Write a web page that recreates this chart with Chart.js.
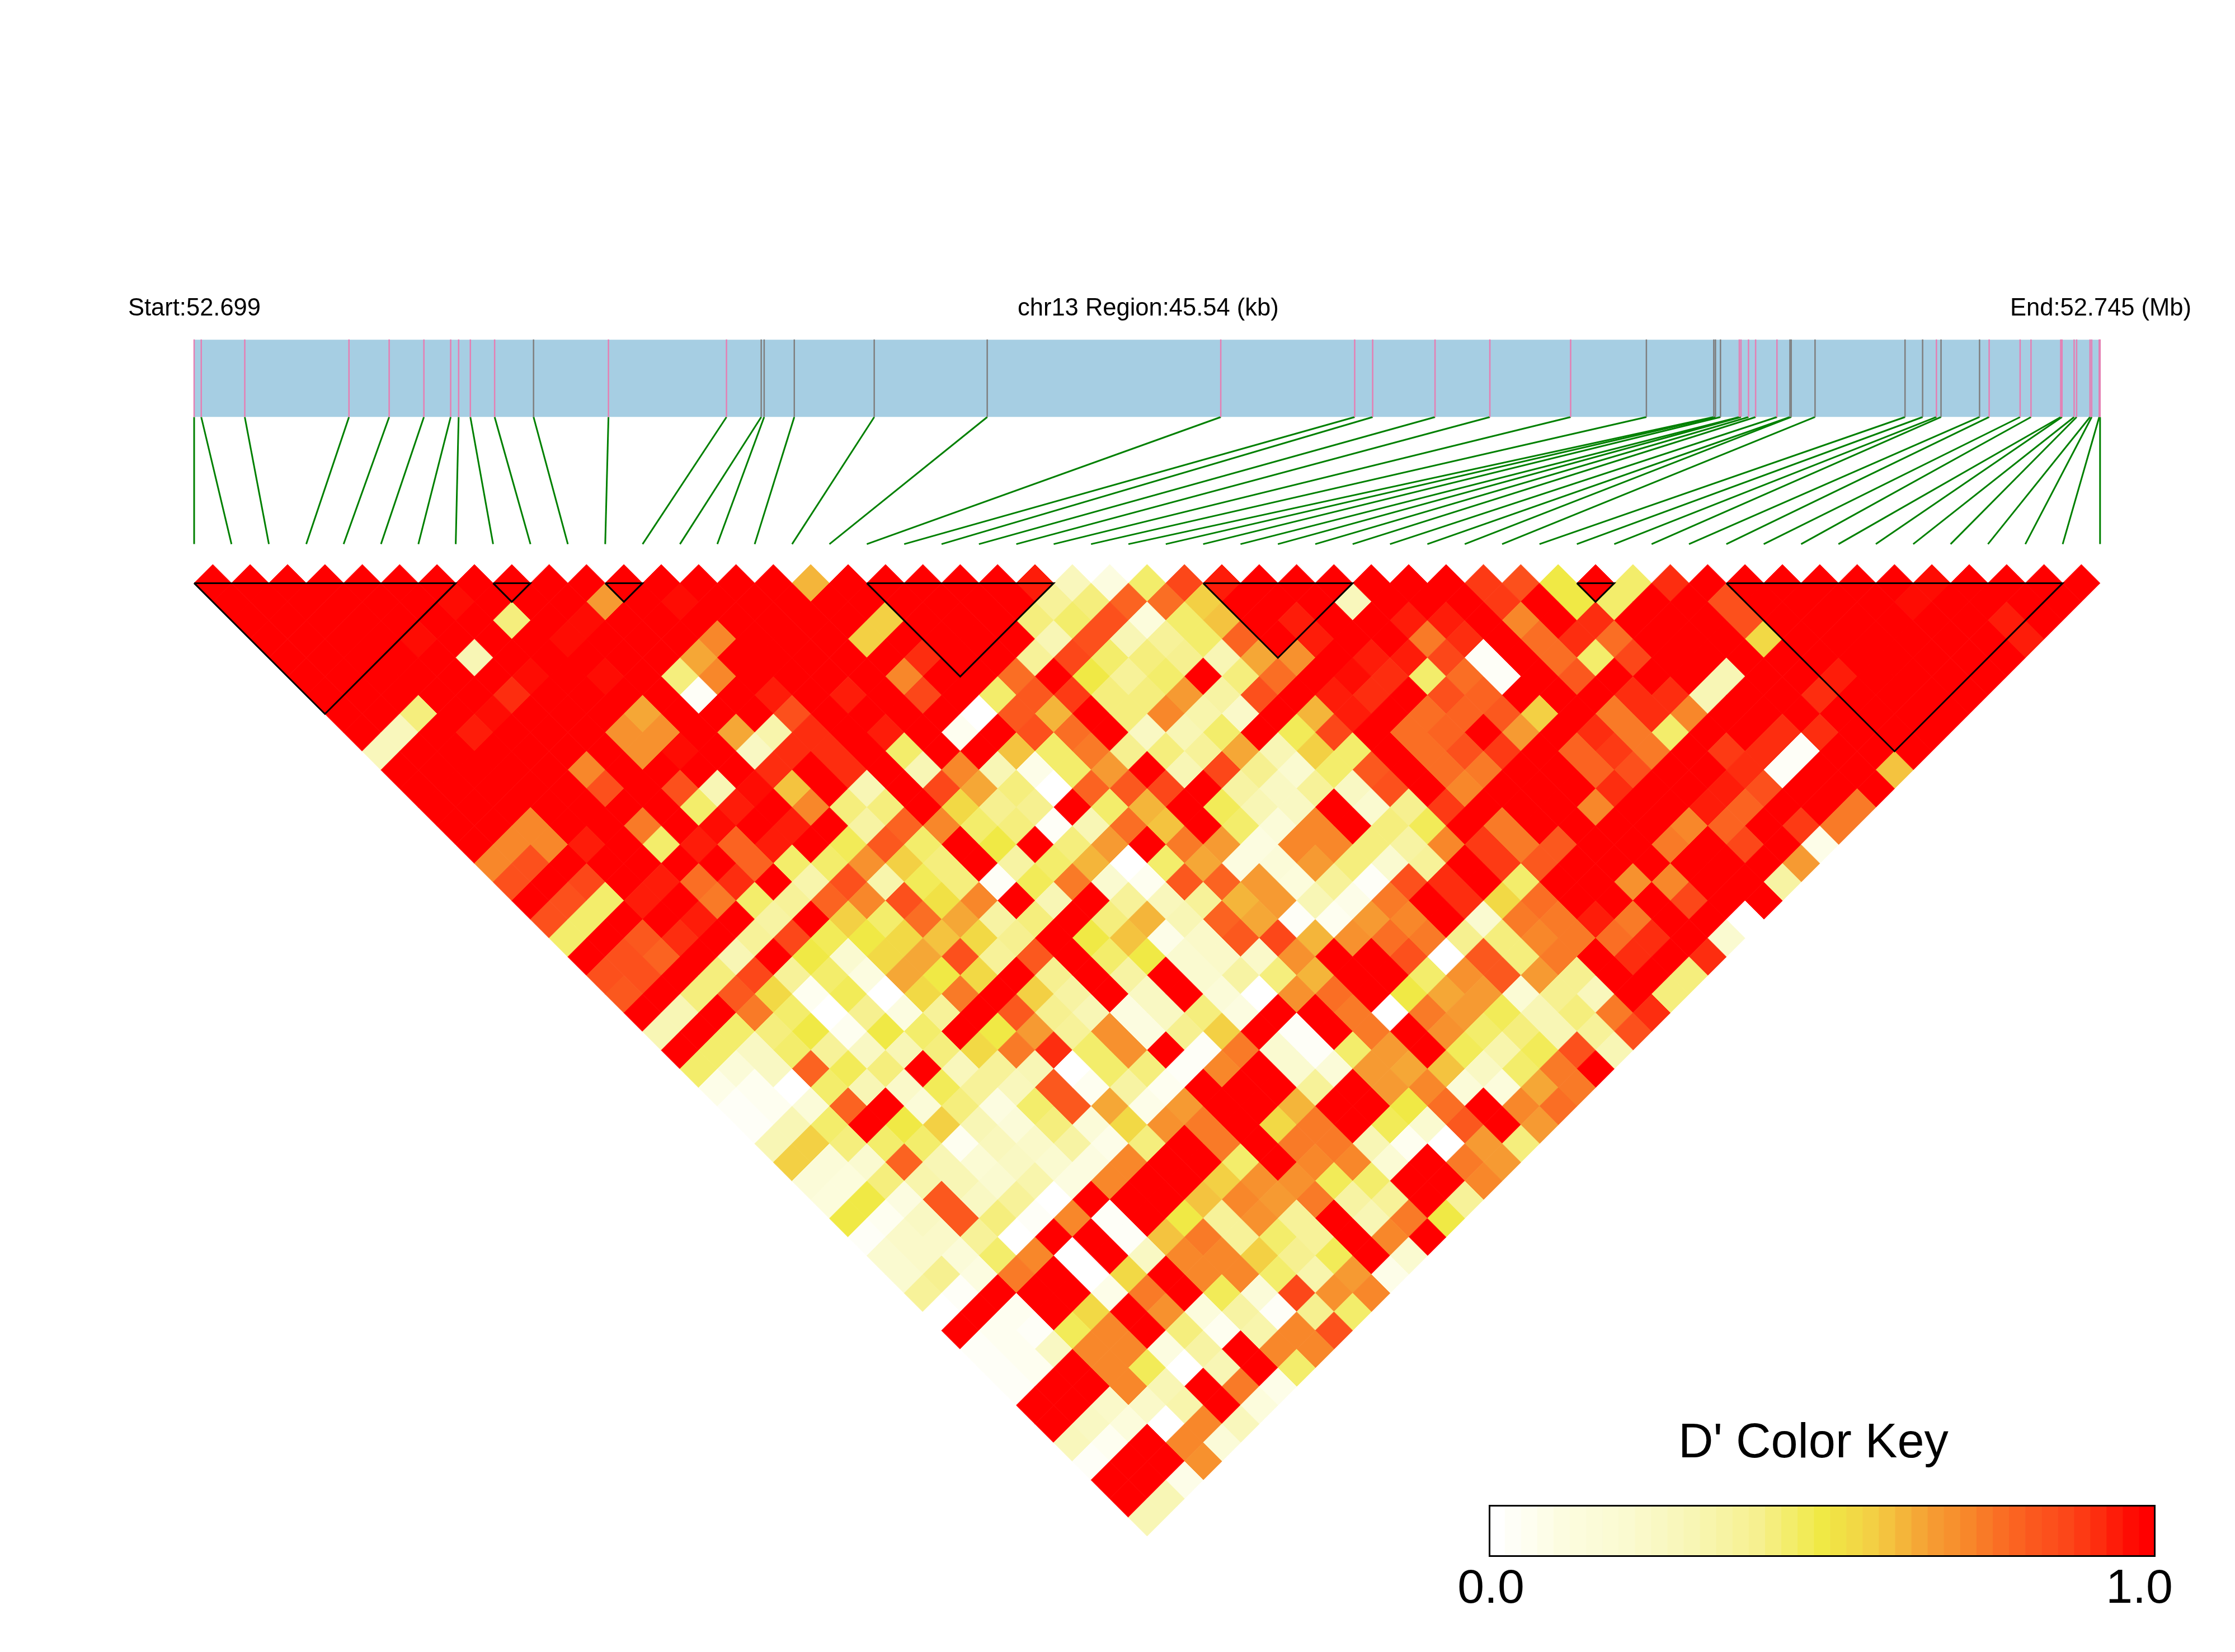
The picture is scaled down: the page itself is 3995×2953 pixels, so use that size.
<!DOCTYPE html>
<html>
<head>
<meta charset="utf-8">
<title>LD heatmap chr13</title>
<script src="https://cdn.jsdelivr.net/npm/chart.js@4/dist/chart.umd.js"></script>
<style>
  body { margin: 0; background: #fff; }
  #wrap { position: relative; width: 3995px; height: 2953px; }
  #ld { position: absolute; left: 0; top: 0; }
  #key { position: absolute; left: 2661px; top: 2690px; }
</style>
</head>
<body>
<div id="wrap">
  <canvas id="ld" width="3995" height="2953"></canvas>
  <canvas id="key" width="1192" height="93"></canvas>
</div>
<script>
// ======== Data ========
const regionKb = 45.54;
// SNP position inside the region, kb from the start
const snpKb = [0, .17, 1.21, 3.70, 4.66, 5.49, 6.13, 6.32, 6.60, 7.18,
  8.11, 9.90, 12.72, 13.55, 13.62, 14.34, 16.25, 18.95,
  24.53, 27.73, 28.16, 29.65, 30.96, 32.89, 34.70,
  36.31, 36.35, 36.47, 36.92, 36.96, 37.14, 37.31, 37.82, 38.13, 38.16, 38.73,
  40.88, 41.30, 41.63, 41.74, 42.66, 42.89, 43.63, 43.89, 44.60, 44.63, 44.92, 44.98, 45.30, 45.34, 45.52, 45.54];
// SNPs whose tick on the gene bar is grey, the others are pink
const greySnps = [10, 13, 14, 15, 16, 17, 24, 25, 26, 27, 33, 34, 35, 36, 37, 39, 40];
// haplotype blocks, first and last SNP
const blockStart = [0, 8, 11, 18, 27, 37, 41];
const blockEnd = [7, 9, 12, 23, 31, 38, 50];

// D' x 100, one list per SNP distance
const dist1 = [100,100,100,100,100,100,100,100,100,100, 100,100,100,100,100,100,62,100,100,100, 100,100,96,28,10,45,88,95,100,100, 100,100,100,100,90,85,50,100,44,92, 100,100,100,100,100,100,97,100,100,100,100];
const dist2 = [100,100,100,100,100,100,97,100,100,100, 68,100,97,100,100,100,100,100,100,100, 100,100,38,42,80,77,57,100,100,100, 28,100,100,100,90,100,50,44,100,100, 85,100,100,100,100,97,100,100,100,100];
const dist3 = [100,100,100,100,100,100,100,42,100,97, 100,100,100,100,100,100,100,57,100,100, 100,42,45,85,12,46,60,100,95,100, 100,95,95,100,73,100,92,100,100,100, 85,100,100,100,100,100,100,95,100];
const dist4 = [100,100,100,100,97,100,100,100,97,100, 100,100,72,100,100,100,57,100,100,100, 100,30,85,30,37,44,80,100,95,100, 100,75,93,100,77,92,77,100,100,100, 56,100,100,100,100,100,100,94];
const dist5 = [100,100,100,100,100,30,100,100,100,100, 100,65,100,100,100,100,100,92,100,100, 38,88,45,42,40,30,65,69,100,95, 95,87,2,100,77,45,88,100,100,100, 100,100,100,100,100,100,100];
const dist6 = [100,100,100,100,100,100,97,100,97,100, 42,72,100,100,100,100,72,100,100,77, 100,50,37,45,100,42,77,100,97,93, 45,77,2,100,82,100,100,100,30,100, 100,94,100,100,100,100];
const dist7 = [100,100,100,100,100,93,100,100,100,100, 3,100,95,100,95,100,87,100,44,82, 90,42,42,67,35,85,100,95,93,100, 85,80,100,100,100,92,93,30,100,100, 92,100,100,100,100];
const dist8 = [100,100,43,100,97,100,100,100,66,100, 100,100,85,100,100,100,100,0,82,62, 100,42,73,33,22,100,62,95,100,77, 80,82,58,100,75,92,72,100,100,100, 100,100,100,100];
const dist9 = [100,28,100,95,100,100,100,70,70,100, 65,33,92,100,95,100,6,100,84,78, 100,25,30,44,100,47,87,100,77,80, 100,67,100,92,75,44,100,100,92,92, 100,100,100];
const dist10 = [28,100,100,100,100,100,100,70,97,100, 25,92,93,100,45,100,100,60,44,76, 41,43,37,66,30,57,44,100,78,85, 90,100,80,90,75,100,90,92,3,100, 100,100];
const dist11 = [100,100,100,100,100,72,100,100,100,100, 92,100,93,100,30,72,30,8,44,67, 100,30,87,40,20,45,82,100,78,75, 100,100,80,85,100,100,93,3,100,100, 60];
const dist12 = [100,100,100,100,100,85,100,85,30,97, 60,100,30,100,87,65,42,0,80,82, 88,100,35,25,37,25,84,100,72,100, 100,100,93,100,100,95,85,100,100,100];
const dist13 = [100,100,100,100,100,100,100,45,95,100, 72,42,42,100,55,40,39,100,44,62, 100,47,30,25,100,20,40,90,100,100, 100,72,100,100,95,80,100,100,76];
const dist14 = [100,100,72,100,100,75,100,97,100,95, 100,36,80,72,46,42,3,30,78,60, 100,46,15,72,100,42,47,100,75,100, 100,100,100,73,80,100,90,75];
const dist15 = [100,72,72,95,100,45,95,80,95,100, 47,82,44,100,50,100,42,68,100,74, 68,10,73,72,42,35,72,90,75,82, 100,100,75,100,87,100,8];
const dist16 = [72,85,100,100,100,100,100,80,45,44, 70,58,42,100,35,44,62,0,46,66, 10,15,68,42,20,37,100,90,82,100, 100,100,100,100,100,67];
const dist17 = [86,100,88,100,95,78,93,100,32,85, 32,48,42,3,48,75,20,5,82,80, 68,12,38,3,85,92,100,44,100,100, 69,73,100,100,35];
const dist18 = [100,86,45,96,100,75,44,38,80,73, 85,52,72,100,30,100,37,27,38,62, 67,30,8,76,100,92,55,78,100,100, 100,87,100,100];
const dist19 = [86,45,100,100,95,100,35,100,58,44, 77,64,36,42,100,42,62,30,80,64, 2,4,68,72,100,20,74,74,95,76, 100,100,0];
const dist20 = [44,100,82,92,100,38,87,47,50,56, 60,54,40,100,50,60,8,22,82,87, 62,70,78,75,40,42,72,74,77,92, 100,20];
const dist21 = [100,84,80,100,30,100,50,20,55,65, 85,38,83,100,45,50,20,22,22,70, 100,100,84,0,82,43,74,100,92,100, 93];
const dist22 = [85,85,100,42,88,38,45,10,65,50, 55,100,40,100,35,100,20,35,42,62, 100,100,45,70,82,67,40,100,100,42];
const dist23 = [82,100,42,83,55,5,48,0,55,76, 100,57,36,100,25,100,15,0,70,78, 100,50,66,67,18,41,27,100,42];
const dist24 = [100,30,100,76,45,0,40,10,38,100, 82,40,30,10,25,43,10,100,100,75, 0,74,68,47,30,43,74,92];
const dist25 = [30,100,44,43,50,5,50,45,100,49, 68,38,70,10,40,58,100,3,100,75, 100,71,45,42,30,38,86];
const dist26 = [100,44,25,44,38,25,30,43,55,76, 92,45,70,100,2,75,20,3,45,67, 100,47,33,48,85,30];
const dist27 = [44,15,25,80,47,42,100,28,38,30, 0,45,43,3,72,100,20,15,68,66, 60,25,45,75,100];
const dist28 = [8,5,0,44,30,22,48,38,27,82, 4,35,5,100,100,100,38,100,67,72, 15,12,66,75];
const dist29 = [2,4,15,80,100,15,42,10,45,83, 65,8,67,100,100,62,100,100,50,77, 100,72,78];
const dist30 = [2,30,44,100,50,58,30,15,42,15, 55,69,75,100,55,75,100,47,20,82, 100,68];
const dist31 = [30,58,43,46,44,5,28,22,35,8, 43,100,75,100,75,75,30,5,0,68, 43];
const dist32 = [58,15,20,80,30,17,25,20,10,72, 100,100,45,100,73,72,18,100,74,67];
const dist33 = [15,13,43,33,30,20,33,10,73,100, 100,58,70,70,47,45,100,100,72];
const dist34 = [12,50,10,82,25,38,0,100,100,100, 60,73,68,74,35,38,100,38];
const dist35 = [50,5,25,82,42,3,72,3,100,50, 38,70,37,100,30,75,50];
const dist36 = [3,22,22,38,0,100,100,3,60,75, 38,45,38,100,72,100];
const dist37 = [20,22,15,45,72,0,100,25,73,73, 57,40,47,100,20];
const dist38 = [20,40,10,76,100,0,55,100,72,72, 45,33,68,8];
const dist39 = [38,3,100,100,100,8,74,100,48,15, 88,70,72];
const dist40 = [0,100,5,100,55,100,70,12,35,2, 40,44];
const dist41 = [100,5,3,48,72,100,43,5,32,72, 85];
const dist42 = [2,4,25,72,72,10,36,100,72,72];
const dist43 = [3,4,100,72,47,0,30,100,44];
const dist44 = [3,100,100,72,30,100,75,8];
const dist45 = [100,100,22,22,33,100,12];
const dist46 = [100,25,12,0,72,28];
const dist47 = [28,4,100,72,15];
const dist48 = [3,100,100,70];
const dist49 = [100,100,7];
const dist50 = [100,30];
const dist51 = [30];
const distances = [dist1, dist2, dist3, dist4, dist5, dist6, dist7, dist8, dist9, dist10,
  dist11, dist12, dist13, dist14, dist15, dist16, dist17, dist18, dist19, dist20,
  dist21, dist22, dist23, dist24, dist25, dist26, dist27, dist28, dist29, dist30,
  dist31, dist32, dist33, dist34, dist35, dist36, dist37, dist38, dist39, dist40,
  dist41, dist42, dist43, dist44, dist45, dist46, dist47, dist48, dist49, dist50, dist51];

// ======== Colours ========
const keySteps = 41;
const rampAt = [0, .1, .2, .3, .4, .5, .57, .62, .67, .72, .77, .82, .87, .92, .97, 1];
const rampRgb = [[255,255,255],[252,252,224],[250,250,208],[248,246,181],[246,240,144],[240,233,69],[243,211,69],[244,184,59],
  [246,156,51],[248,138,42],[250,112,37],[251,90,30],[252,74,26],[253,48,16],[254,14,4],[255,0,0]];

function ldColor(v) {
  v = Math.round(v * (keySteps - 1)) / (keySteps - 1);
  let i = 0;
  while (i < rampAt.length - 2 && v > rampAt[i + 1]) i++;
  const t = (v - rampAt[i]) / (rampAt[i + 1] - rampAt[i]);
  const c = rampRgb[i].map((a, n) => Math.round(a + (rampRgb[i + 1][n] - a) * t));
  return `rgb(${c[0]},${c[1]},${c[2]})`;
}

// ======== Layout, in scale units: x = SNP number, y = SNP distance ========
const snpCount = snpKb.length;
const geneTop = -12.04, geneBottom = -7.89, fanBottom = -1.09;
const kbToX = kb => kb / regionKb * (snpCount - 1);

// ======== Datasets ========
const cells = [];
const cellColors = [];
distances.forEach((list, d) => {
  list.forEach((v, k) => {
    cells.push({ x: k + (d + 1) / 2, y: d + 1 });
    cellColors.push(ldColor(v / 100));
  });
});

const datasets = [];
datasets.push({
  type: 'scatter', label: "D'", data: cells, order: 5,
  backgroundColor: cellColors, borderColor: cellColors, borderWidth: 1, pointStyle: 'rectRot',
  pointRadius: c => (c.chart.scales.x.getPixelForValue(1) - c.chart.scales.x.getPixelForValue(0)) / 2,
});
// gene bar is one thick line across the region
datasets.push({
  type: 'line', label: 'region', order: 10, pointRadius: 0, borderCapStyle: 'butt',
  borderColor: '#a6cee3', borderWidth: 138,
  data: [{ x: 0, y: (geneTop + geneBottom) / 2 }, { x: snpCount - 1, y: (geneTop + geneBottom) / 2 }],
});
snpKb.forEach((kb, i) => {
  datasets.push({
    type: 'line', label: 'tick' + i, order: 6, pointRadius: 0, borderWidth: 2.5,
    borderColor: greySnps.includes(i) ? '#7f7f7f' : '#e57fb3',
    data: [{ x: kbToX(kb), y: geneTop }, { x: kbToX(kb), y: geneBottom }],
  });
  datasets.push({
    type: 'line', label: 'fan' + i, order: 6, pointRadius: 0, borderWidth: 3,
    borderColor: '#008000',
    data: [{ x: kbToX(kb), y: geneBottom }, { x: i, y: fanBottom }],
  });
});
blockStart.forEach((a, n) => {
  const b = blockEnd[n];
  datasets.push({
    type: 'line', label: 'block' + n, order: 1, pointRadius: 0, borderWidth: 3,
    borderColor: '#000', borderJoinStyle: 'miter',
    data: [{ x: a, y: 1 }, { x: b, y: 1 }, { x: (a + b) / 2, y: 1 + b - a }, { x: a, y: 1 }],
  });
});

// ======== Texts ========
const pageTexts = [
  { text: 'Start:52.699', x: 229, y: 564, size: 43.5, align: 'left' },
  { text: 'chr13 Region:45.54 (kb)', x: 1819, y: 564, size: 43.5, align: 'left' },
  { text: 'End:52.745 (Mb)', x: 3593, y: 564, size: 43.5, align: 'left' },
  { text: "D' Color Key", x: 3000, y: 2605, size: 86.5, align: 'left' },
  { text: '0.0', x: 2665, y: 2865, size: 86, align: 'center' },
  { text: '1.0', x: 3824, y: 2865, size: 86, align: 'center' },
];
const textPlugin = {
  id: 'pageTexts',
  afterDraw(chart) {
    const ctx = chart.ctx;
    ctx.save();
    ctx.fillStyle = '#000';
    pageTexts.forEach(t => {
      ctx.font = `${t.size}px "Liberation Sans"`;
      ctx.textAlign = t.align;
      ctx.fillText(t.text, t.x, t.y);
    });
    ctx.restore();
  },
};

// ======== Charts ========
new Chart(document.getElementById('ld'), {
  data: { datasets },
  plugins: [textPlugin],
  options: {
    responsive: false, animation: false, events: [],
    layout: { padding: 0 },
    plugins: { legend: { display: false }, tooltip: { enabled: false } },
    scales: {
      x: { type: 'linear', display: false, min: -347 / 66.8, max: (3995 - 347) / 66.8 },
      y: { type: 'linear', display: false, reverse: true, min: 1 - 1042.4 / 33.4, max: 1 + (2953 - 1042.4) / 33.4 },
    },
  },
});

const keyLevels = Array.from({ length: keySteps }, (_, i) => i / (keySteps - 1));
const framePlugin = {
  id: 'keyFrame',
  afterDraw(chart) {
    const ctx = chart.ctx;
    ctx.save();
    ctx.strokeStyle = '#000';
    ctx.lineWidth = 3;
    ctx.strokeRect(1.5, 1.5, chart.width - 3, chart.height - 3);
    ctx.restore();
  },
};
new Chart(document.getElementById('key'), {
  type: 'bar',
  data: {
    labels: keyLevels,
    datasets: [{
      data: keyLevels.map(() => 1),
      backgroundColor: keyLevels.map(ldColor),
      barPercentage: 1, categoryPercentage: 1, borderWidth: 0,
    }],
  },
  plugins: [framePlugin],
  options: {
    responsive: false, animation: false, events: [],
    layout: { padding: 0 },
    plugins: { legend: { display: false }, tooltip: { enabled: false } },
    scales: { x: { display: false }, y: { display: false, min: 0, max: 1 } },
  },
});
</script>
</body>
</html>
